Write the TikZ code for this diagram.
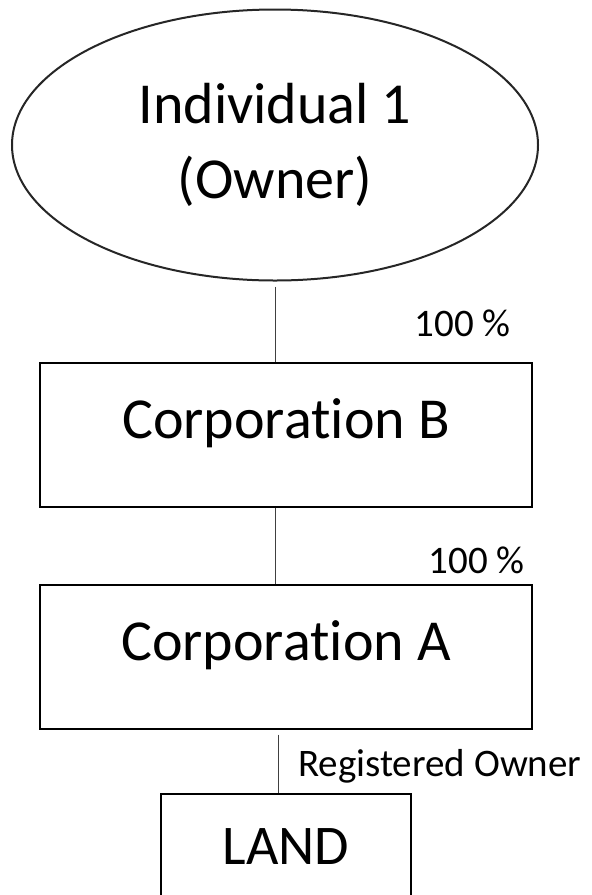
\documentclass[tikz,border=0pt]{standalone}
\usepackage{fontspec}
\setmainfont{Carlito}[Ligatures={NoCommon}]
\usepackage{tikz}
\usetikzlibrary{shapes.geometric, positioning, calc}
\tikzset{
  % owner and company nodes
  ownernode/.style={
    ellipse, draw=black!85, line width=0.6mm,
    minimum width=157.8mm, minimum height=81.3mm,
    inner sep=0pt, align=center,
    font=\fontsize{49.5}{64}\selectfont
  },
  corpnode/.style={
    rectangle, draw=black, line width=0.6mm,
    minimum width=147.6mm, minimum height=43.2mm,
    text height=13mm, text depth=10.8mm,
    font=\fontsize{49.5}{64}\selectfont
  },
  landnode/.style={
    rectangle, draw=black, line width=0.6mm,
    minimum width=75mm, minimum height=39mm,
    text height=13mm, text depth=9.4mm,
    font=\fontsize{47.8}{60}\selectfont
  },
  % share links and their labels
  sharelink/.style={draw=black!75, line width=0.3mm},
  sharelabel/.style={font=\fontsize{33.3}{40}\selectfont, inner sep=0pt}
}
\begin{document}
\begin{tikzpicture}[x=0.3mm, y=-0.3mm]

  \useasboundingbox (0,0) rectangle (592,895);
  \clip (0,0) rectangle (592,895);

  % --- Owner ---
  \node[ownernode] (ind) at (275,145) {Individual 1\\(Owner)};

  % --- Corporations ---
  \node[corpnode, below=24mm of ind, xshift=3.3mm] (corpB) {Corporation B};
  \node[corpnode, below=22.8mm of corpB] (corpA) {Corporation A};

  % --- Land ---
  \node[landnode, below=18.9mm of corpA] (land) {LAND};

  % links
  \draw[sharelink, shorten <=1.5mm] (ind.south) -- (ind.south |- corpB.north);
  \draw[sharelink] (corpB.south -| ind.south) -- (corpA.north -| ind.south);
  \draw[sharelink, shorten <=1.5mm] ([xshift=-2.4mm]corpA.south) -- ([xshift=-2.4mm]land.north);

  % labels
  \node[sharelabel, anchor=base east] (pctB) at ([xshift=-6.6mm, yshift=7.5mm]corpB.north east) {100 \%};
  \node[sharelabel, anchor=base east] (pctA) at ([xshift=-2.4mm, yshift=3mm]corpA.north east) {100 \%};
  \node[sharelabel, anchor=base west] (reg) at ([xshift=3.6mm, yshift=4.8mm]land.north) {Registered Owner};

\end{tikzpicture}
\end{document}
